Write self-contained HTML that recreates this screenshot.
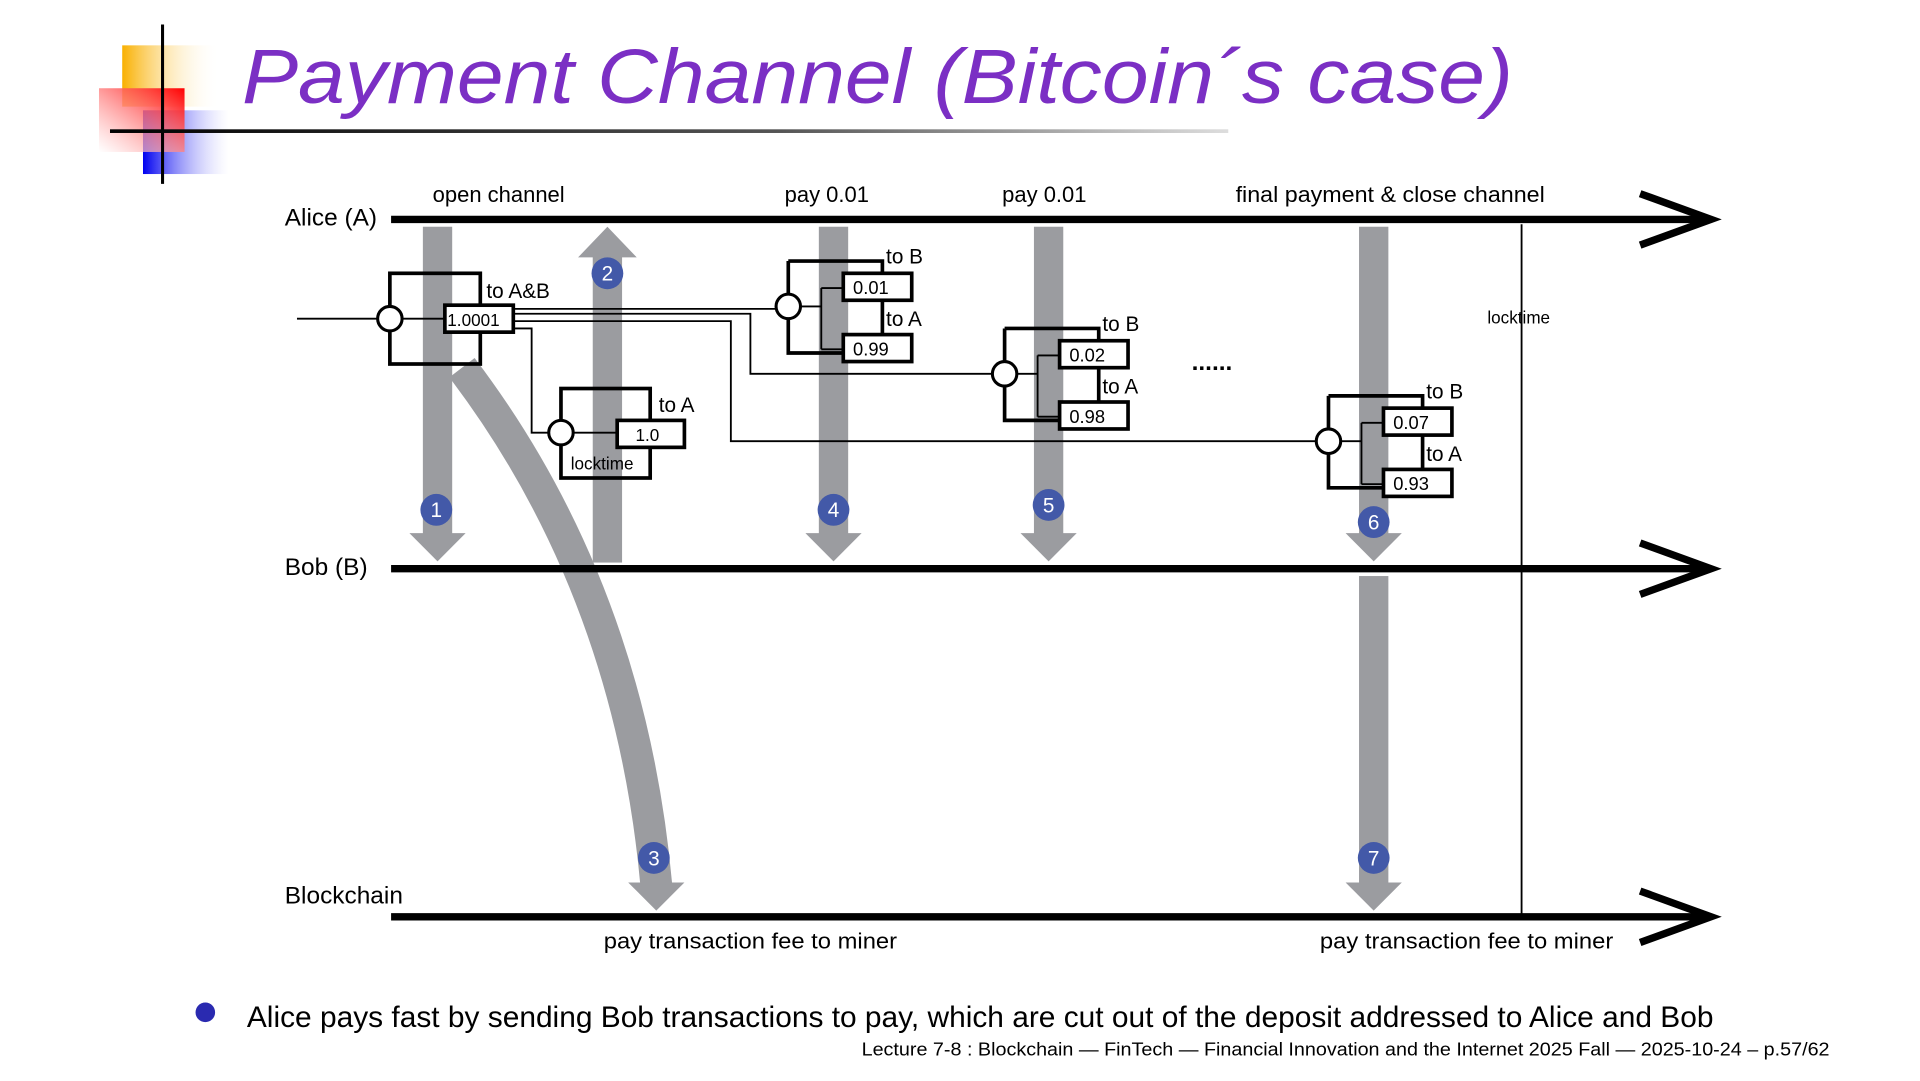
<!DOCTYPE html>
<html><head><meta charset="utf-8"><style>
html,body{margin:0;padding:0;background:#fff;width:1920px;height:1081px;overflow:hidden}
svg{display:block}
text{font-family:"Liberation Sans",sans-serif;fill:#000}
</style></head><body>
<svg width="1920" height="1081" viewBox="0 0 1571 882" preserveAspectRatio="none" xmlns="http://www.w3.org/2000/svg">
<defs>
<linearGradient id="gy" x1="0" x2="1"><stop offset="0" stop-color="#f9b000"/><stop offset="1" stop-color="#fff" stop-opacity="0"/></linearGradient>
<linearGradient id="gr" x1="1" x2="0" y1="0" y2="1"><stop offset="0" stop-color="#f00"/><stop offset="1" stop-color="#fff" stop-opacity="0.6"/></linearGradient>
<linearGradient id="gb" x1="0" x2="1"><stop offset="0" stop-color="#0000f0"/><stop offset="1" stop-color="#fff" stop-opacity="0.3"/></linearGradient>
<linearGradient id="gl" x1="0" x2="1"><stop offset="0" stop-color="#000"/><stop offset="0.6" stop-color="#555"/><stop offset="1" stop-color="#ddd"/></linearGradient>
<g id="ptx" fill="none" stroke="#000">
<path d="M0,-37 H77 V-27 M0,-37 V38 H45" stroke-width="3"/>
<path d="M77,-5 V23" stroke-width="3"/>
<path d="M10,0 H27 M27,-15 V35 M27,-15 H45 M27,35 H45" stroke-width="1.5"/>
<rect x="45" y="-27" width="56" height="22" fill="#fff" stroke-width="3"/>
<rect x="45" y="23" width="56" height="22" fill="#fff" stroke-width="3"/>
<circle r="10" fill="#fff" stroke-width="2.5"/>
</g>
</defs>
<!-- logo -->
<rect x="100" y="37" width="80" height="50" fill="url(#gy)"/>
<rect x="117" y="90" width="70" height="52" fill="url(#gb)"/>
<rect x="81" y="72" width="70" height="52" fill="url(#gr)"/>
<line x1="133" y1="20" x2="133" y2="150" stroke="#000" stroke-width="2.5"/>
<rect x="90" y="105.5" width="915" height="3" fill="url(#gl)"/>
<text x="198" y="84" font-size="63" font-style="italic" textLength="1040" lengthAdjust="spacingAndGlyphs" style="fill:#7b2fc4">Payment Channel (Bitcoin´s case)</text>

<!-- gray arrows -->
<g fill="#9b9ca0">
<rect x="346" y="185" width="24" height="252"/><polygon points="335,435 381,435 358,458"/>
<rect x="485" y="208" width="24" height="251"/><polygon points="473,210 521,210 497,185"/>
<rect x="670" y="185" width="24" height="252"/><polygon points="659,435 705,435 682,458"/>
<rect x="846" y="185" width="24" height="252"/><polygon points="835,435 881,435 858,458"/>
<rect x="1112" y="185" width="24" height="252"/><polygon points="1101,435 1147,435 1124,458"/>
<rect x="1112" y="470" width="24" height="252"/><polygon points="1101,720 1147,720 1124,743"/>
<polygon points="514,720 560,720 537,743"/>
</g>
<path d="M378,300 Q515,480 537,722" fill="none" stroke="#9b9ca0" stroke-width="26"/>

<!-- timelines -->
<g stroke="#000" fill="none">
<line x1="320" y1="179" x2="1398" y2="179" stroke-width="6"/>
<line x1="320" y1="464" x2="1398" y2="464" stroke-width="6"/>
<line x1="320" y1="748" x2="1398" y2="748" stroke-width="6"/>
<polyline points="1342,158 1400,179 1342,200" stroke-width="6"/>
<polyline points="1342,443 1400,464 1342,485" stroke-width="6"/>
<polyline points="1342,727 1400,748 1342,769" stroke-width="6"/>
<line x1="1245" y1="183" x2="1245" y2="748" stroke-width="1.5"/>
</g>

<!-- wires -->
<g stroke="#000" fill="none" stroke-width="1.5">
<line x1="243" y1="260" x2="309" y2="260"/>
<line x1="329" y1="260" x2="364" y2="260"/>
<polyline points="420,252 635,252"/>
<polyline points="420,256 614,256 614,305 812,305"/>
<polyline points="420,262 598,262 598,360 1077,360"/>
<polyline points="420,268 435,268 435,353 449,353"/>
<line x1="469" y1="353" x2="505" y2="353"/>
</g>
<!-- open tx -->
<rect x="319" y="223" width="74" height="74" fill="none" stroke="#000" stroke-width="3"/>
<rect x="364" y="249" width="56" height="22" fill="#fff" stroke="#000" stroke-width="3"/>
<circle cx="319" cy="260" r="10" fill="#fff" stroke="#000" stroke-width="2.5"/>
<text x="366" y="266" font-size="14">1.0001</text>
<text x="398" y="243" font-size="17">to A&amp;B</text>
<!-- locktime tx -->
<rect x="459" y="317" width="73" height="73" fill="none" stroke="#000" stroke-width="3"/>
<rect x="505" y="343" width="55" height="22" fill="#fff" stroke="#000" stroke-width="3"/>
<circle cx="459" cy="353" r="10" fill="#fff" stroke="#000" stroke-width="2.5"/>
<text x="520" y="360" font-size="14">1.0</text>
<text x="539" y="336" font-size="17">to A</text>
<text x="467" y="383" font-size="14">locktime</text>

<use href="#ptx" x="645" y="250"/>
<use href="#ptx" x="822" y="305"/>
<use href="#ptx" x="1087" y="360"/>
<g font-size="15">
<text x="698" y="240">0.01</text><text x="698" y="290">0.99</text>
<text x="875" y="295">0.02</text><text x="875" y="345">0.98</text>
<text x="1140" y="350">0.07</text><text x="1140" y="400">0.93</text>
</g>
<g font-size="17">
<text x="725" y="215">to B</text><text x="725" y="266">to A</text>
<text x="902" y="270">to B</text><text x="902" y="321">to A</text>
<text x="1167" y="325">to B</text><text x="1167" y="376">to A</text>
</g>
<text x="975" y="302" font-size="20" font-weight="bold">......</text>
<text x="1217" y="264" font-size="14">locktime</text>

<!-- numbered circles -->
<g fill="#4359a8">
<circle cx="357" cy="416" r="13"/><circle cx="497" cy="223" r="13"/><circle cx="535" cy="700" r="13"/>
<circle cx="682" cy="416" r="13"/><circle cx="858" cy="412" r="13"/><circle cx="1124" cy="426" r="13"/><circle cx="1124" cy="700" r="13"/>
</g>
<g font-size="17" text-anchor="middle">
<text x="357" y="422" style="fill:#fff">1</text><text x="497" y="229" style="fill:#fff">2</text><text x="535" y="706" style="fill:#fff">3</text>
<text x="682" y="422" style="fill:#fff">4</text><text x="858" y="418" style="fill:#fff">5</text><text x="1124" y="432" style="fill:#fff">6</text><text x="1124" y="706" style="fill:#fff">7</text>
</g>

<!-- labels -->
<g font-size="18">
<text x="233" y="184" font-size="20">Alice (A)</text>
<text x="233" y="469" font-size="20">Bob (B)</text>
<text x="233" y="737" font-size="20">Blockchain</text>
<text x="354" y="165">open channel</text>
<text x="642" y="165">pay 0.01</text>
<text x="820" y="165">pay 0.01</text>
<text x="1011" y="165" textLength="253" lengthAdjust="spacingAndGlyphs">final payment &amp; close channel</text>
<text x="494" y="774" textLength="240" lengthAdjust="spacingAndGlyphs">pay transaction fee to miner</text>
<text x="1080" y="774" textLength="240" lengthAdjust="spacingAndGlyphs">pay transaction fee to miner</text>
</g>
<circle cx="168" cy="826" r="8" fill="#2a2ab0"/>
<text x="202" y="838" font-size="24" textLength="1200" lengthAdjust="spacingAndGlyphs">Alice pays fast by sending Bob transactions to pay, which are cut out of the deposit addressed to Alice and Bob</text>
<text x="705" y="861" font-size="15" textLength="792" lengthAdjust="spacingAndGlyphs">Lecture 7-8 : Blockchain — FinTech — Financial Innovation and the Internet 2025 Fall — 2025-10-24 – p.57/62</text>
</svg>
</body></html>
